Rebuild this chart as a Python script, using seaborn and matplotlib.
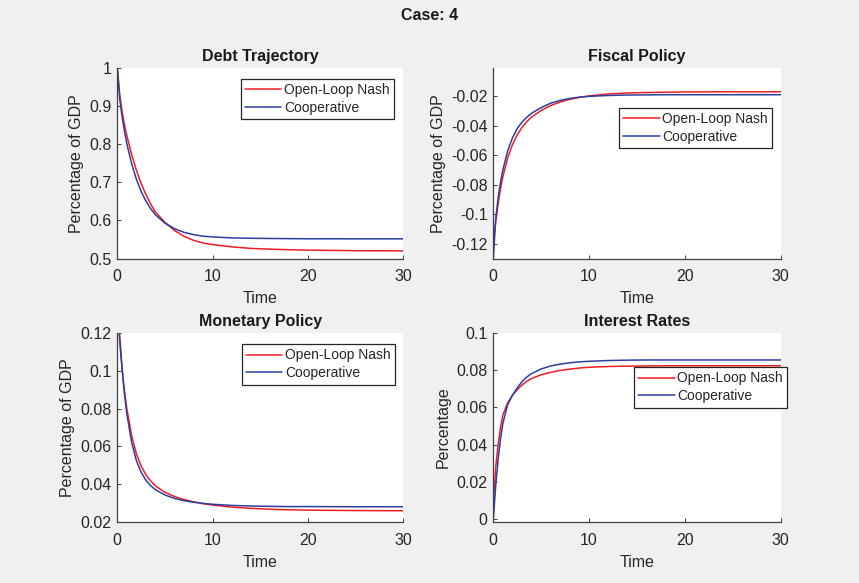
import matplotlib
matplotlib.use("Agg")
import matplotlib.pyplot as plt
import pandas as pd
import seaborn as sns

# ---------------- data ----------------
time = [0, 0.25, 0.5, 0.75, 1, 1.5, 2, 2.5, 3, 3.5, 4, 5, 6, 7, 8, 9, 10,
        12, 14, 16, 18, 20, 25, 30]
series_names = ["Open-Loop Nash", "Cooperative"]

debt_nash = [1.0, 0.931, 0.885, 0.851, 0.822, 0.773, 0.732, 0.697, 0.668, 0.643,
             0.622, 0.595, 0.574, 0.5585, 0.548, 0.541, 0.537, 0.531, 0.527, 0.525,
             0.5235, 0.5225, 0.521, 0.5205]
debt_coop = [1.0, 0.919, 0.872, 0.834, 0.801, 0.749, 0.708, 0.676, 0.651, 0.631,
             0.615, 0.593, 0.5785, 0.569, 0.563, 0.559, 0.557, 0.5545, 0.5535, 0.553,
             0.5525, 0.5522, 0.552, 0.552]

fiscal_nash = [-0.12, -0.1052, -0.0929, -0.0828, -0.0745, -0.0618, -0.0528, -0.0461,
               -0.0411, -0.0372, -0.0341, -0.0296, -0.0263, -0.0239, -0.0221, -0.0208,
               -0.0198, -0.0185, -0.0178, -0.0175, -0.0173, -0.0171, -0.0170, -0.0170]
fiscal_coop = [-0.13, -0.1033, -0.0889, -0.0783, -0.0698, -0.0570, -0.0482, -0.0419,
               -0.0375, -0.0342, -0.0315, -0.0277, -0.0247, -0.0228, -0.0215, -0.0206,
               -0.0201, -0.0195, -0.0192, -0.0191, -0.0190, -0.0190, -0.0190, -0.0190]

monetary_nash = [0.1332, 0.1154, 0.1010, 0.0893, 0.0799, 0.0658, 0.0562, 0.0497, 0.0451,
                 0.0418, 0.0392, 0.0358, 0.0336, 0.0320, 0.0308, 0.0298, 0.0291,
                 0.0280, 0.0274, 0.0269, 0.0266, 0.0264, 0.0262, 0.0261]
monetary_coop = [0.1405, 0.1185, 0.1013, 0.0878, 0.0772, 0.0622, 0.0526, 0.0464, 0.0422,
                 0.0393, 0.0372, 0.0344, 0.0326, 0.0314, 0.0306, 0.0300, 0.0295,
                 0.0289, 0.0286, 0.0284, 0.0283, 0.0283, 0.0282, 0.0282]

interest_nash = [0.0095, 0.028, 0.040, 0.049, 0.056, 0.0625, 0.0665, 0.0695, 0.072,
                 0.074, 0.0755, 0.0775, 0.0788, 0.0798, 0.0805, 0.0811, 0.0815,
                 0.0819, 0.0821, 0.0822, 0.0823, 0.0823, 0.0823, 0.0823]
interest_coop = [0.0, 0.018, 0.032, 0.043, 0.0515, 0.0615, 0.0665, 0.0705, 0.0738,
                 0.0763, 0.0781, 0.0806, 0.0822, 0.0832, 0.0839, 0.0844, 0.0847,
                 0.0851, 0.0853, 0.0854, 0.0854, 0.0854, 0.0854, 0.0854]

x_ticks = [0, 10, 20, 30]
x_ticklabels = ["0", "10", "20", "30"]
debt_ticks = [0.5, 0.6, 0.7, 0.8, 0.9, 1.0]
debt_ticklabels = ["0.5", "0.6", "0.7", "0.8", "0.9", "1"]
fiscal_ticks = [-0.12, -0.10, -0.08, -0.06, -0.04, -0.02]
fiscal_ticklabels = ["-0.12", "-0.1", "-0.08", "-0.06", "-0.04", "-0.02"]
monetary_ticks = [0.02, 0.04, 0.06, 0.08, 0.10, 0.12]
monetary_ticklabels = ["0.02", "0.04", "0.06", "0.08", "0.1", "0.12"]
interest_ticks = [0, 0.02, 0.04, 0.06, 0.08, 0.10]
interest_ticklabels = ["0", "0.02", "0.04", "0.06", "0.08", "0.1"]

# ---------------- style ----------------
sns.set_style("ticks")
plt.rcParams['font.family'] = ['Liberation Sans', 'DejaVu Sans']
RED = '#f01c24'
BLUE = '#2c3e9e'
TXT = '#262626'
AX = '#404040'
W, H = 859, 583

fig = plt.figure(figsize=(W / 100, H / 100), dpi=100, facecolor='#f0f0f0')

def rect(l, t, r, b):
    return [l / W, 1 - b / H, (r - l) / W, (b - t) / H]

panels = [
    dict(title="Debt Trajectory", ylabel="Percentage of GDP", nash=debt_nash, coop=debt_coop,
         ylim=(0.5, 1.0), ticks=debt_ticks, labels=debt_ticklabels,
         rect=rect(117.3, 67.7, 403.3, 258.7), leg=(241.0, 79.0)),
    dict(title="Fiscal Policy", ylabel="Percentage of GDP", nash=fiscal_nash, coop=fiscal_coop,
         ylim=(-0.13, -0.0007), ticks=fiscal_ticks, labels=fiscal_ticklabels,
         rect=rect(493.3, 67.7, 780.7, 258.7), leg=(619.3, 108.0)),
    dict(title="Monetary Policy", ylabel="Percentage of GDP", nash=monetary_nash, coop=monetary_coop,
         ylim=(0.02, 0.12), ticks=monetary_ticks, labels=monetary_ticklabels,
         rect=rect(117.3, 332.7, 403.3, 522.3), leg=(241.7, 344.3)),
    dict(title="Interest Rates", ylabel="Percentage", nash=interest_nash, coop=interest_coop,
         ylim=(-0.0015, 0.1), ticks=interest_ticks, labels=interest_ticklabels,
         rect=rect(493.3, 332.7, 780.7, 522.3), leg=(634.3, 367.3)),
]

FS = 11.5
for p in panels:
    ax = fig.add_axes(p['rect'])
    ax.set_facecolor('white')
    df = pd.DataFrame({
        'Time': time * 2,
        'value': p['nash'] + p['coop'],
        'Policy': [series_names[0]] * len(time) + [series_names[1]] * len(time),
    })
    sns.lineplot(data=df, x='Time', y='value', hue='Policy', hue_order=series_names,
                 palette=[RED, BLUE], linewidth=1.1, ax=ax, estimator=None, sort=False)
    ax.set_xlim(0, 30)
    ax.set_ylim(*p['ylim'])
    ax.set_xticks(x_ticks)
    ax.set_xticklabels(x_ticklabels)
    ax.set_yticks(p['ticks'])
    ax.set_yticklabels(p['labels'])
    ax.tick_params(direction='in', length=3, width=0.7, colors=AX, labelcolor=TXT,
                   labelsize=FS, pad=4)
    ax.tick_params(axis='x', pad=7.5)
    sns.despine(ax=ax)
    for s in ('left', 'bottom'):
        ax.spines[s].set_color(AX)
        ax.spines[s].set_linewidth(0.9)
    ax.set_title(p['title'], fontsize=FS, fontweight='bold', color='#1a1a1a', pad=4.5)
    ax.set_xlabel("Time", fontsize=FS, color=TXT, labelpad=5)
    ax.set_ylabel(p['ylabel'], fontsize=FS, color=TXT, labelpad=4)
    h, l = ax.get_legend_handles_labels()
    lx, ly = p['leg']
    leg = ax.legend(h, l, loc='upper left', bbox_to_anchor=(lx / W, 1 - ly / H),
                    bbox_transform=fig.transFigure, borderaxespad=0, fontsize=10,
                    frameon=True, fancybox=False, framealpha=1, edgecolor='#262626',
                    borderpad=0.3, labelspacing=0.28, handlelength=2.6, handletextpad=0.2)
    leg.get_frame().set_linewidth(0.9)
    for line in leg.get_lines():
        line.set_linewidth(1.1)

fig.text(0.5, 1 - 15 / H, "Case: 4", ha='center', va='center', fontsize=FS,
         fontweight='bold', color='#1a1a1a')

fig.savefig("out.png", dpi=100, facecolor=fig.get_facecolor())
